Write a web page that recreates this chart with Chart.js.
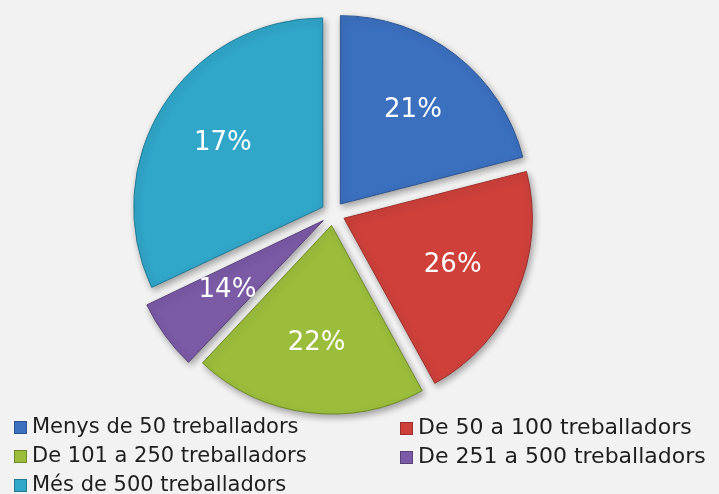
<!DOCTYPE html>
<html>
<head>
<meta charset="utf-8">
<script src="https://cdn.jsdelivr.net/npm/chart.js@4/dist/chart.umd.min.js"></script>
<style>
    html, body { margin: 0; padding: 0; background: #f2f2f2; }
    #wrap { position: relative; width: 719px; height: 494px; overflow: hidden; }
    #legend {
        position: absolute; left: 0; top: 412px; width: 719px;
        font-family: "DejaVu Sans", Verdana, sans-serif; font-size: 21px; color: #1e1e1e;
        line-height: 29px;
    }
    .item { position: absolute; white-space: nowrap; }
    .item.right { font-size: 22px; }
    .box {
        display: inline-block; width: 13px; height: 13px; margin-right: 5px;
        vertical-align: -1px; box-sizing: border-box;
    }
</style>
</head>
<body>
<div id="wrap">
    <canvas id="pieChart" width="719" height="494"></canvas>
    <div id="legend"></div>
</div>
<script>
// categories
const categories = [
    'Menys de 50 treballadors',
    'De 50 a 100 treballadors',
    'De 101 a 250 treballadors',
    'De 251 a 500 treballadors',
    'Més de 500 treballadors'
];
// slice sizes as drawn in the picture (share of the circle, %)
const sliceValues = [21, 21, 20, 6, 32];
// texts printed on the slices
const sliceLabels = ['21%', '26%', '22%', '14%', '17%'];

const fillColors = ['#3b70bf', '#cf403b', '#9bbd3b', '#7b5aa6', '#30a6c9'];
const edgeColors = ['#2a5390', '#9a2e2a', '#6f8a28', '#58407a', '#227a94'];

// slice labels + drop shadow under the pie
const pieDecor = {
    id: 'pieDecor',
    beforeDatasetsDraw(chart) {
        const ctx = chart.ctx;
        ctx.save();
        ctx.shadowColor = 'rgba(0,0,0,0.35)';
        ctx.shadowBlur = 7;
        ctx.shadowOffsetX = 2;
        ctx.shadowOffsetY = 3;
    },
    afterDatasetsDraw(chart) {
        const ctx = chart.ctx;
        ctx.restore();
        const meta = chart.getDatasetMeta(0);
        ctx.save();
        ctx.fillStyle = '#ffffff';
        ctx.font = '26px "DejaVu Sans", Verdana, sans-serif';
        ctx.textAlign = 'center';
        ctx.textBaseline = 'middle';
        meta.data.forEach((arc, i) => {
            const p = arc.getProps(['x', 'y', 'startAngle', 'endAngle', 'outerRadius']);
            const mid = (p.startAngle + p.endAngle) / 2;
            const r = p.outerRadius * 0.63 + arc.options.offset / 4;
            ctx.fillText(sliceLabels[i], p.x + Math.cos(mid) * r, p.y + Math.sin(mid) * r);
        });
        ctx.restore();
    }
};

const ctx = document.getElementById('pieChart').getContext('2d');
const chart = new Chart(ctx, {
    type: 'pie',
    data: {
        labels: categories,
        datasets: [{
            data: sliceValues,
            backgroundColor: fillColors,
            borderColor: edgeColors,
            borderWidth: 1,
            offset: 48,
            hoverOffset: 0
        }]
    },
    options: {
        responsive: false,
        animation: false,
        radius: 188,
        layout: { padding: { left: 0, right: 53, top: 0, bottom: 67 } },
        plugins: {
            legend: { display: false },
            tooltip: { enabled: false }
        }
    },
    plugins: [pieDecor]
});

// legend, two columns like the original
const legendEl = document.getElementById('legend');
categories.forEach((name, i) => {
    const item = document.createElement('div');
    item.className = 'item' + (i % 2 === 1 ? ' right' : '');
    item.style.left = (i % 2 === 0 ? 14 : 400) + 'px';
    item.style.top = (Math.floor(i / 2) * 29) + 'px';
    item.innerHTML = `<span class="box" style="background:${fillColors[i]};border:1px solid ${edgeColors[i]}"></span>${name}`;
    legendEl.appendChild(item);
});
</script>
</body>
</html>
